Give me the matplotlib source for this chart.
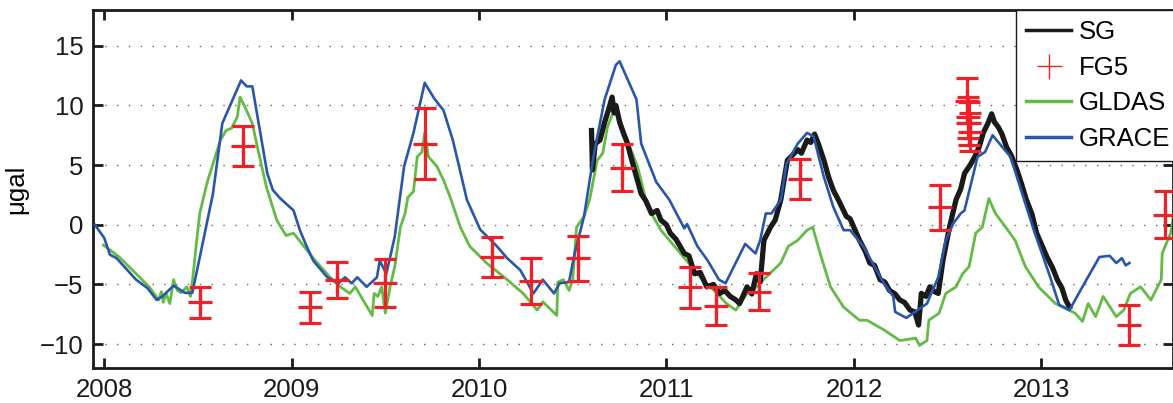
import matplotlib
matplotlib.use("Agg")
import matplotlib.pyplot as plt
from matplotlib.lines import Line2D

plt.rcParams['font.family'] = ['Liberation Sans', 'DejaVu Sans']

# ---------------- data (decimal year, µgal) ----------------
grace_t = [2007.95, 2008.0, 2008.03, 2008.066, 2008.17, 2008.23, 2008.28, 2008.31, 2008.37, 2008.43,
           2008.47, 2008.51, 2008.58, 2008.63, 2008.73, 2008.76, 2008.79, 2008.87, 2008.90, 2008.94,
           2009.01, 2009.045, 2009.08, 2009.115, 2009.19, 2009.25, 2009.285, 2009.32, 2009.35, 2009.40,
           2009.455, 2009.47, 2009.505, 2009.55, 2009.60, 2009.65, 2009.71, 2009.76, 2009.81, 2009.86,
           2009.935, 2010.006, 2010.095, 2010.15, 2010.22, 2010.29, 2010.34, 2010.40, 2010.43, 2010.48,
           2010.51, 2010.56, 2010.61, 2010.67, 2010.73, 2010.75, 2010.84, 2010.865, 2010.945, 2011.015,
           2011.095, 2011.11, 2011.165, 2011.22, 2011.28, 2011.315, 2011.42, 2011.475, 2011.50, 2011.53,
           2011.56, 2011.61, 2011.64, 2011.70, 2011.75, 2011.785, 2011.84, 2011.89, 2011.945, 2011.98,
           2012.05, 2012.16, 2012.21, 2012.22, 2012.28, 2012.39, 2012.45, 2012.49, 2012.53, 2012.57,
           2012.59, 2012.66, 2012.70, 2012.74, 2012.835, 2012.87, 2012.96, 2013.05, 2013.095, 2013.15,
           2013.23, 2013.31, 2013.365, 2013.40, 2013.43, 2013.45, 2013.47]
grace_v = [0.0, -1.1, -2.5, -2.8, -4.6, -5.3, -6.3, -6.0, -5.1, -5.7,
           -5.7, -2.7, 2.6, 8.5, 12.1, 11.6, 11.6, 4.3, 2.9, 2.2,
           1.2, -0.5, -1.8, -3.0, -4.4, -4.9, -4.4, -4.9, -4.4, -5.2,
           -4.4, -3.0, -4.1, -1.0, 4.9, 7.7, 11.9, 10.6, 9.6, 7.1,
           2.1, -0.4, -1.8, -2.8, -3.8, -5.75, -4.6, -5.75, -4.9, -4.8,
           -2.4, 0.7, 5.7, 10.5, 13.4, 13.7, 10.5, 6.8, 3.6, 2.1,
           -0.3, 0.06, -1.8, -3.0, -4.6, -4.9, -1.6, -2.4, -1.3, 0.95,
           0.95, 2.1, 5.1, 6.8, 7.7, 7.4, 4.0, 1.5, -0.45, -0.45,
           -1.8, -4.9, -6.0, -7.3, -7.8, -6.6, -4.4, -1.3, 0.1, 0.95,
           1.2, 5.7, 6.1, 7.5, 5.7, 4.0, -0.45, -4.5, -6.7, -7.15,
           -4.9, -2.7, -2.6, -3.2, -2.8, -3.4, -3.2]

gldas_t = [2007.995, 2008.03, 2008.08, 2008.17, 2008.24, 2008.29, 2008.305, 2008.315, 2008.33, 2008.35,
           2008.37, 2008.39, 2008.41, 2008.44, 2008.46, 2008.475, 2008.49, 2008.51, 2008.55, 2008.58,
           2008.62, 2008.65, 2008.68, 2008.71, 2008.725, 2008.75, 2008.79, 2008.82, 2008.865, 2008.92,
           2008.97, 2009.01, 2009.115, 2009.205, 2009.26, 2009.31, 2009.34, 2009.36, 2009.43, 2009.44,
           2009.46, 2009.48, 2009.50, 2009.525, 2009.55, 2009.58, 2009.605, 2009.62, 2009.65, 2009.67,
           2009.695, 2009.71, 2009.73, 2009.775, 2009.81, 2009.845, 2009.90, 2009.95, 2010.04, 2010.15,
           2010.235, 2010.31, 2010.34, 2010.415, 2010.42, 2010.45, 2010.48, 2010.50, 2010.52, 2010.56,
           2010.59, 2010.63, 2010.66, 2010.685, 2010.71, 2010.74, 2010.79, 2010.845, 2010.90, 2010.97,
           2011.075, 2011.18, 2011.27, 2011.32, 2011.37, 2011.43, 2011.48, 2011.53, 2011.61, 2011.65,
           2011.70, 2011.75, 2011.78, 2011.82, 2011.875, 2011.945, 2012.03, 2012.07, 2012.16, 2012.245,
           2012.33, 2012.35, 2012.39, 2012.40, 2012.455, 2012.49, 2012.545, 2012.58, 2012.615, 2012.65,
           2012.685, 2012.72, 2012.755, 2012.81, 2012.86, 2012.915, 2012.985, 2013.075, 2013.18, 2013.22,
           2013.25, 2013.29, 2013.33, 2013.40, 2013.44, 2013.475, 2013.53, 2013.585, 2013.64, 2013.645,
           2013.69, 2013.71]
gldas_v = [-1.7, -2.1, -2.7, -4.1, -5.2, -6.3, -5.6, -6.5, -5.75, -6.6,
           -4.6, -5.5, -5.7, -5.2, -6.0, -4.1, -1.8, 1.0, 3.6, 5.1,
           7.1, 7.9, 8.1, 9.05, 10.7, 9.9, 8.5, 6.3, 3.2, 0.4,
           -0.9, -0.7, -2.8, -4.4, -5.2, -5.75, -5.2, -5.75, -7.6, -5.75,
           -6.0, -5.2, -7.4, -5.2, -3.5, -0.2, 0.95, 2.3, 2.8, 5.7,
           6.1, 7.7, 5.7, 4.9, 3.75, 2.35, -0.2, -1.8, -3.2, -4.6,
           -5.75, -7.15, -6.45, -7.6, -4.8, -4.6, -5.5, -4.6, -0.2, 0.7,
           2.1, 5.4, 6.0, 8.2, 9.2, 9.3, 7.1, 4.9, 1.5, -0.45,
           -2.4, -4.4, -5.75, -6.6, -7.15, -5.75, -5.2, -4.4, -3.2, -1.8,
           -1.3, -0.45, -0.2, -2.4, -5.2, -6.9, -8.0, -8.0, -8.8, -9.7,
           -9.5, -10.1, -9.7, -8.0, -7.4, -5.75, -5.2, -4.1, -3.5, -0.7,
           -0.2, 2.2, 0.95, -0.2, -1.3, -3.5, -5.2, -6.6, -7.4, -8.1,
           -6.6, -7.7, -6.0, -7.7, -7.15, -5.75, -5.2, -6.3, -4.6, -2.4,
           -0.7, 1.2]

sg_t = [2010.60, 2010.605, 2010.62, 2010.645, 2010.67, 2010.69, 2010.71, 2010.72, 2010.73, 2010.75,
        2010.77, 2010.79, 2010.81, 2010.84, 2010.865, 2010.89, 2010.92, 2010.95, 2010.97, 2011.0,
        2011.02, 2011.05, 2011.095, 2011.12, 2011.15, 2011.18, 2011.215, 2011.25, 2011.285, 2011.31,
        2011.34, 2011.37, 2011.39, 2011.41, 2011.43, 2011.455, 2011.48, 2011.50, 2011.52, 2011.555,
        2011.58, 2011.61, 2011.645, 2011.67, 2011.70, 2011.72, 2011.75, 2011.77, 2011.79, 2011.81,
        2011.84, 2011.865, 2011.89, 2011.92, 2011.96, 2011.98, 2012.03, 2012.06, 2012.085, 2012.11,
        2012.14, 2012.165, 2012.19, 2012.22, 2012.245, 2012.27, 2012.30, 2012.325, 2012.345, 2012.36,
        2012.385, 2012.405, 2012.43, 2012.45, 2012.475, 2012.51, 2012.545, 2012.57, 2012.59, 2012.62,
        2012.645, 2012.67, 2012.69, 2012.715, 2012.735, 2012.75, 2012.77, 2012.79, 2012.815, 2012.84,
        2012.87, 2012.895, 2012.92, 2012.95, 2012.975, 2013.0, 2013.03, 2013.06, 2013.085, 2013.11,
        2013.13, 2013.15]
sg_v = [7.9, 4.6, 6.8, 7.1, 8.6, 9.6, 10.7, 9.4, 10.0, 8.6,
        7.7, 6.9, 5.7, 4.0, 2.6, 2.0, 0.95, 1.2, 0.4, 0.0,
        -0.7, -1.2, -2.4, -2.6, -4.1, -4.0, -5.2, -5.0, -5.75, -5.5,
        -6.0, -6.3, -6.6, -5.9, -5.2, -5.8, -4.1, -4.8, -1.3, -0.2,
        0.4, 2.1, 5.4, 5.8, 6.3, 6.0, 7.1, 6.9, 7.6, 6.8,
        5.4, 4.0, 2.9, 2.0, 0.7, 0.5, -1.3, -2.2, -3.2, -3.4,
        -4.6, -4.8, -5.5, -5.8, -6.3, -6.5, -7.15, -7.3, -8.4, -5.75,
        -6.0, -5.2, -5.6, -5.75, -3.0, -0.2, 2.1, 3.0, 4.3, 5.0,
        5.7, 6.6, 7.7, 8.5, 9.3, 8.6, 8.2, 7.6, 6.5, 5.8,
        4.6, 3.4, 2.1, 0.9, -0.7, -1.6, -2.7, -3.6, -4.6, -5.3,
        -6.3, -6.9]

fg5_t = [2008.51, 2008.74, 2009.10, 2009.24, 2009.50, 2009.71, 2010.07, 2010.275, 2010.53, 2010.76,
         2011.125, 2011.265, 2011.495, 2011.71, 2012.46, 2012.605, 2012.61, 2012.615, 2012.62, 2013.47,
         2013.66]
fg5_v = [-6.5, 6.6, -6.9, -4.6, -4.9, 6.8, -2.7, -4.7, -2.8, 4.8,
         -5.25, -6.8, -5.6, 3.85, 1.45, 10.4, 9.0, 8.5, 7.8, -8.4,
         0.85]
fg5_err = [1.3, 1.65, 1.3, 1.5, 2.0, 3.0, 1.65, 1.9, 1.9, 1.95,
           1.75, 1.6, 1.55, 1.7, 1.85, 1.9, 1.7, 1.8, 1.6, 1.7,
           1.95]

year_ticks = [2008, 2009, 2010, 2011, 2012, 2013]
y_ticks = [-10, -5, 0, 5, 10, 15]

# ---------------- colours ----------------
c_sg = '#1a1a1a'
c_fg5 = '#ee2028'
c_gldas = '#63bb45'
c_grace = '#2b55a8'

W, H = 1173, 403
fig = plt.figure(figsize=(W / 100, H / 100), dpi=100)
ax = fig.add_axes([93 / W, 1 - 368 / H, (1172.5 - 93) / W, (368 - 10) / H])

ax.plot(gldas_t, gldas_v, color=c_gldas, lw=2.0, zorder=2)
ax.plot(sg_t, sg_v, color=c_sg, lw=3.8, zorder=3)
ax.plot(grace_t, grace_v, color=c_grace, lw=1.9, zorder=4)
ax.errorbar(fg5_t, fg5_v, yerr=fg5_err, fmt='+', color=c_fg5, ms=17, mew=2.3,
            elinewidth=2.3, capsize=8, capthick=2.3, zorder=5)

ax.set_xlim(2007.94, 2013.70)
ax.set_ylim(-12, 18)
ax.set_xticks(year_ticks)
ax.set_xticklabels([str(y) for y in year_ticks])
ax.set_yticks(y_ticks)
ax.set_yticklabels([('\u2212' + str(-v)) if v < 0 else str(v) for v in y_ticks])
ax.yaxis.grid(True, linestyle=(0, (1, 7.5)), color='#666666', lw=1.0)
ax.set_axisbelow(True)
ax.tick_params(direction='in', length=7, width=2.0, top=True, right=True,
               labelsize=18.5, pad=7, colors='#1a1a1a')
for s in ax.spines.values():
    s.set_linewidth(2.0)
    s.set_color('#1a1a1a')
ax.set_ylabel('\u03bcgal', fontsize=18.5, labelpad=8)

handles = [Line2D([], [], color=c_sg, lw=2.5),
           Line2D([], [], color=c_fg5, ls='none', marker='+', ms=18, mew=1.0),
           Line2D([], [], color=c_gldas, lw=2.5),
           Line2D([], [], color=c_grace, lw=2.5)]
leg = ax.legend(handles, ['SG', 'FG5', 'GLDAS', 'GRACE'], loc='upper left',
                bbox_to_anchor=((1016 - 93) / (1172.5 - 93), 1.0), borderaxespad=0,
                fontsize=18.5, frameon=True, fancybox=False, framealpha=1,
                edgecolor='#1a1a1a', handlelength=1.75, handletextpad=0.3,
                labelspacing=0.45, borderpad=0.4)
leg.get_frame().set_linewidth(1.0)
leg.set_zorder(10)

fig.savefig('out.png', dpi=100)
